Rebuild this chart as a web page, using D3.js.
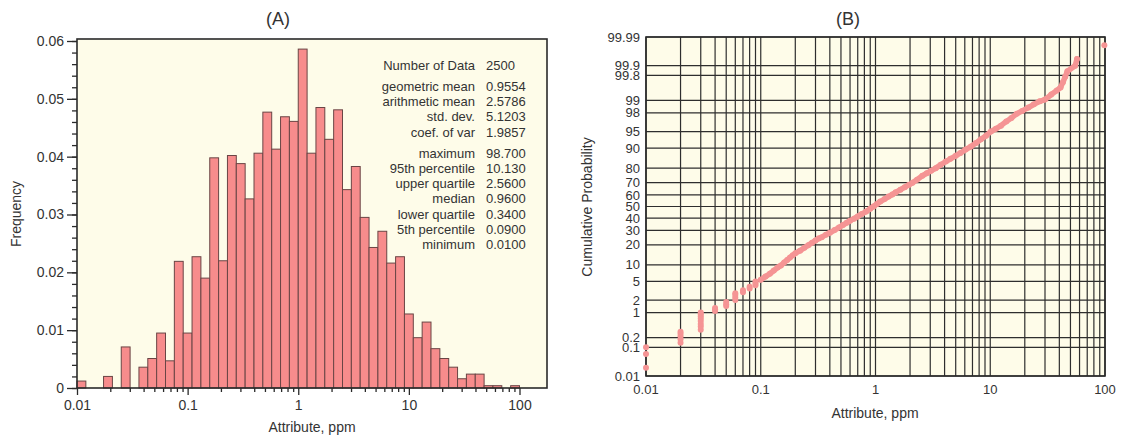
<!DOCTYPE html>
<html>
<head>
<meta charset="utf-8">
<script src="https://cdn.jsdelivr.net/npm/d3@7"></script>
<style>
body { margin: 0; background: #fff; }
svg text { font-family: "Liberation Sans", Arial, sans-serif; fill: #333; }
</style>
</head>
<body>
<div id="chart"></div>
<script>
// ---------------- data ----------------
// histogram: 50 log-spaced bins from 0.01 to 100 (0.08 log units wide)
var binStartLog = -2, binStepLog = 0.08;
var freq = [
	0.0012, 0, 0, 0.0020, 0, 0.0071, 0, 0.0036, 0.0051, 0.0095,
	0.0047, 0.0219, 0.0095, 0.0227, 0.0190, 0.0398, 0.0220, 0.0402, 0.0388, 0.0327,
	0.0406, 0.0477, 0.0413, 0.0469, 0.0461, 0.0586, 0.0406, 0.0485, 0.0430, 0.0481,
	0.0343, 0.0383, 0.0295, 0.0243, 0.0271, 0.0216, 0.0227, 0.0128, 0.0087, 0.0114,
	0.0068, 0.0051, 0.0036, 0.0016, 0.0024, 0.0024, 0.0004, 0.0004, 0, 0.0004
];

var statLabels = ['Number of Data', 'geometric mean', 'arithmetic mean', 'std. dev.', 'coef. of var',
	'maximum', '95th percentile', 'upper quartile', 'median', 'lower quartile', '5th percentile', 'minimum'];
var statValues = ['2500', '0.9554', '2.5786', '5.1203', '1.9857',
	'98.700', '10.130', '2.5600', '0.9600', '0.3400', '0.0900', '0.0100'];
var statGroup = [0, 1, 1, 1, 1, 2, 2, 2, 2, 2, 2, 2];

var xTicks = [0.01, 0.1, 1, 10, 100];
var freqTicks = [0, 0.01, 0.02, 0.03, 0.04, 0.05, 0.06];
var probTicks = [0.01, 0.1, 0.2, 1, 2, 5, 10, 20, 30, 40, 50, 60, 70, 80, 90, 95, 98, 99, 99.8, 99.9, 99.99];

// probability plot: low, discrete values (value, cumulative %)
var lowX = [0.01, 0.01, 0.01, 0.02, 0.02, 0.02, 0.02, 0.02,
	0.03, 0.03, 0.03, 0.03, 0.03, 0.03, 0.03, 0.03,
	0.04, 0.04, 0.04, 0.05, 0.05, 0.05, 0.06, 0.06, 0.06, 0.06,
	0.07, 0.07, 0.08, 0.08, 0.09, 0.09, 0.09];
var lowP = [0.02, 0.06, 0.10, 0.14, 0.18, 0.22, 0.26, 0.30,
	0.34, 0.42, 0.50, 0.60, 0.70, 0.80, 0.90, 1.00,
	1.10, 1.20, 1.30, 1.45, 1.60, 1.80, 2.0, 2.3, 2.6, 2.85,
	3.0, 3.3, 3.6, 3.9, 4.2, 4.6, 5.0];

// probability plot: continuous part
var probX = [0.1, 0.11, 0.12, 0.13, 0.14, 0.15, 0.16, 0.17, 0.18, 0.19, 0.2, 0.22, 0.24, 0.26, 0.28, 0.3,
	0.32, 0.34, 0.37, 0.4, 0.44, 0.48, 0.52, 0.56, 0.6, 0.65, 0.7, 0.76, 0.83, 0.9, 0.96,
	1.03, 1.1, 1.2, 1.3, 1.4, 1.5, 1.65, 1.8, 1.95, 2.1, 2.3, 2.56, 2.8, 3.05, 3.35, 3.7,
	4.1, 4.5, 5.0, 5.5, 6.1, 6.8, 7.5, 8.3, 9.2, 10.13, 11.2, 12.4, 13.8, 15.3, 17, 19,
	21.5, 24, 27, 30, 34, 38, 41, 43, 45, 47, 55, 57];
var probP = [5.4, 6.2, 7.0, 8.0, 9.0, 9.8, 11.0, 12.0, 13.2, 14.2, 15.2, 16.6, 18.3, 19.8, 21.3, 22.8,
	24.2, 25.0, 26.8, 28.2, 30.3, 32.2, 34.2, 36.0, 37.8, 39.5, 41.4, 43.5, 45.6, 48.0, 50.0,
	52.2, 54.3, 56.5, 58.6, 60.3, 62.2, 64.4, 66.4, 68.2, 69.8, 72.2, 75.0, 76.8, 78.3, 80.0, 82.0,
	83.8, 85.2, 86.7, 88.0, 89.4, 90.6, 91.8, 93.0, 94.0, 95.0, 95.6, 96.2, 96.9, 97.4, 97.9, 98.2,
	98.5, 98.75, 98.95, 99.05, 99.3, 99.45, 99.55, 99.68, 99.78, 99.85, 99.9, 99.94];
var maxX = 98.7, maxP = 99.98;

// ---------------- setup ----------------
var svg = d3.select('#chart').append('svg')
	.attr('width', 1121)
	.attr('height', 440);

var cream = '#fefce9',
	barFill = '#f78c8c',
	dotFill = '#f59494',
	ink = '#2a2a2a';

// =================================================================
// (A) histogram
// =================================================================
var A = { l: 77, r: 547, t: 39, b: 388 };

var xA = d3.scaleLog().domain([0.01, 100 * Math.pow(10, 0.52)]).range([A.l, A.l + 442.7 / 4 * (4 + 0.52)]);
xA.domain([0.01, 100]).range([A.l, 519.5]);
var yA = d3.scaleLinear().domain([0, 0.06]).range([A.b, A.t + 2]);

svg.append('rect')
	.attr('x', A.l).attr('y', A.t)
	.attr('width', A.r - A.l).attr('height', A.b - A.t)
	.attr('fill', cream);

svg.append('g').selectAll('rect')
	.data(freq)
	.enter()
	.append('rect')
	.attr('x', (d, i) => xA(Math.pow(10, binStartLog + i * binStepLog)))
	.attr('width', (d, i) => xA(Math.pow(10, binStartLog + (i + 1) * binStepLog)) - xA(Math.pow(10, binStartLog + i * binStepLog)))
	.attr('y', d => yA(d))
	.attr('height', d => yA(0) - yA(d))
	.attr('fill', barFill)
	.attr('stroke', d => d > 0 ? '#6a4545' : 'none')
	.attr('stroke-width', 1);

svg.append('rect')
	.attr('x', A.l).attr('y', A.t)
	.attr('width', A.r - A.l).attr('height', A.b - A.t)
	.attr('fill', 'none')
	.attr('stroke', ink)
	.attr('stroke-width', 1.6);

// x axis (log)
var xMinor = [];
xTicks.slice(0, -1).forEach(d => { for (var k = 2; k <= 9; k++) xMinor.push(d * k); });

var xAxisA = svg.append('g')
	.attr('transform', `translate(0,${A.b})`)
	.call(d3.axisBottom(xA).tickValues(xTicks).tickFormat(d => d3.format('~g')(d)).tickSize(7).tickPadding(5).tickSizeOuter(0));
xAxisA.select('.domain').remove();
svg.append('g')
	.attr('transform', `translate(0,${A.b})`)
	.call(d3.axisBottom(xA).tickValues(xMinor).tickFormat('').tickSize(4).tickSizeOuter(0))
	.select('.domain').remove();

// y axis
var yMinor = d3.range(0, 0.0601, 0.002);
svg.append('g')
	.attr('transform', `translate(${A.l},0)`)
	.call(d3.axisLeft(yA).tickValues(yMinor).tickFormat('').tickSize(5).tickSizeOuter(0))
	.select('.domain').remove();
var yAxisA = svg.append('g')
	.attr('transform', `translate(${A.l},0)`)
	.call(d3.axisLeft(yA).tickValues(freqTicks).tickFormat(d => d === 0 ? '0' : d.toFixed(2)).tickSize(10).tickPadding(3).tickSizeOuter(0));
yAxisA.select('.domain').remove();

svg.selectAll('.tick line').attr('stroke', ink).attr('stroke-width', 1.3);
svg.selectAll('.tick text').style('font-size', '14px').attr('fill', '#333');

// stats table
var statsG = svg.append('g').style('font-size', '13px');
statLabels.forEach((s, i) => {
	var y = 65.5 + i * 15.3 + statGroup[i] * 5.5;
	statsG.append('text')
		.attr('x', 475).attr('y', y).attr('dy', '0.35em')
		.attr('text-anchor', 'end')
		.text(s);
	statsG.append('text')
		.attr('x', 486).attr('y', y).attr('dy', '0.35em')
		.text(statValues[i]);
});

svg.append('text')
	.attr('x', 278).attr('y', 25)
	.attr('text-anchor', 'middle')
	.style('font-size', '18px')
	.text('(A)');

svg.append('text')
	.attr('x', 312).attr('y', 432)
	.attr('text-anchor', 'middle')
	.style('font-size', '14px')
	.text('Attribute, ppm');

svg.append('text')
	.attr('transform', 'translate(21,214)rotate(-90)')
	.attr('text-anchor', 'middle')
	.style('font-size', '14px')
	.text('Frequency');

// =================================================================
// (B) probability plot
// =================================================================
function normInv(p) {
	var a = [-3.969683028665376e+01, 2.209460984245205e+02, -2.759285104469687e+02, 1.383577518672690e+02, -3.066479806614716e+01, 2.506628277459239e+00];
	var b = [-5.447609879822406e+01, 1.615858368580409e+02, -1.556989798598866e+02, 6.680131188771972e+01, -1.328068155288572e+01];
	var c = [-7.784894002430293e-03, -3.223964580411365e-01, -2.400758277161838e+00, -2.549732539343734e+00, 4.374664141464968e+00, 2.938163982698783e+00];
	var d = [7.784695709041462e-03, 3.224671290700398e-01, 2.445134137142996e+00, 3.754408661907416e+00];
	var pl = 0.02425, q, r;
	if (p < pl) {
		q = Math.sqrt(-2 * Math.log(p));
		return (((((c[0] * q + c[1]) * q + c[2]) * q + c[3]) * q + c[4]) * q + c[5]) / ((((d[0] * q + d[1]) * q + d[2]) * q + d[3]) * q + 1);
	}
	if (p > 1 - pl) {
		q = Math.sqrt(-2 * Math.log(1 - p));
		return -(((((c[0] * q + c[1]) * q + c[2]) * q + c[3]) * q + c[4]) * q + c[5]) / ((((d[0] * q + d[1]) * q + d[2]) * q + d[3]) * q + 1);
	}
	q = p - 0.5; r = q * q;
	return (((((a[0] * r + a[1]) * r + a[2]) * r + a[3]) * r + a[4]) * r + a[5]) * q / (((((b[0] * r + b[1]) * r + b[2]) * r + b[3]) * r + b[4]) * r + 1);
}

var B = { l: 646, r: 1105, t: 37, b: 376 };
var xB = d3.scaleLog().domain([0.01, 100]).range([B.l, B.r]);
var zB = d3.scaleLinear().domain([normInv(0.0001), normInv(0.9999)]).range([B.b, B.t]);
var yB = p => zB(normInv(p / 100));

svg.append('rect')
	.attr('x', B.l).attr('y', B.t)
	.attr('width', B.r - B.l).attr('height', B.b - B.t)
	.attr('fill', cream);

var gridX = [];
xTicks.slice(0, -1).forEach(d => { for (var k = 1; k <= 9; k++) gridX.push(d * k); });
gridX.push(100);

var gridG = svg.append('g').attr('stroke', '#2e2e2e').attr('stroke-width', 1.2);
gridG.selectAll('.vline')
	.data(gridX)
	.enter()
	.append('line')
	.attr('x1', d => xB(d)).attr('x2', d => xB(d))
	.attr('y1', B.t).attr('y2', B.b);
gridG.selectAll('.hline')
	.data(probTicks)
	.enter()
	.append('line')
	.attr('x1', B.l).attr('x2', B.r)
	.attr('y1', d => yB(d)).attr('y2', d => yB(d));

svg.append('rect')
	.attr('x', B.l).attr('y', B.t)
	.attr('width', B.r - B.l).attr('height', B.b - B.t)
	.attr('fill', 'none')
	.attr('stroke', ink)
	.attr('stroke-width', 1.6);

// points
var ptsG = svg.append('g').attr('fill', dotFill);
ptsG.append('path')
	.datum(probX.map((x, i) => [x, probP[i]]))
	.attr('fill', 'none')
	.attr('stroke', dotFill)
	.attr('stroke-width', 5.5)
	.attr('stroke-linecap', 'round')
	.attr('stroke-linejoin', 'round')
	.attr('d', d3.line().x(d => xB(d[0])).y(d => yB(d[1])));
ptsG.selectAll('.pc')
	.data(probX.map((x, i) => [x, probP[i]]))
	.enter()
	.append('circle')
	.attr('cx', d => xB(d[0])).attr('cy', d => yB(d[1]))
	.attr('r', 3);
ptsG.selectAll('.pl')
	.data(lowX.map((x, i) => [x, lowP[i]]))
	.enter()
	.append('circle')
	.attr('cx', d => xB(d[0])).attr('cy', d => yB(d[1]))
	.attr('r', 3);
ptsG.append('circle')
	.attr('cx', xB(maxX)).attr('cy', yB(maxP))
	.attr('r', 3);

// labels
svg.append('g').selectAll('text')
	.data(probTicks)
	.enter()
	.append('text')
	.attr('x', B.l - 6)
	.attr('y', d => yB(d))
	.attr('dy', '0.35em')
	.attr('text-anchor', 'end')
	.style('font-size', '13px')
	.text(d => d);

svg.append('g').selectAll('text')
	.data(xTicks)
	.enter()
	.append('text')
	.attr('x', d => xB(d))
	.attr('y', 394)
	.attr('text-anchor', 'middle')
	.style('font-size', '13px')
	.text(d => d3.format('~g')(d));

svg.append('text')
	.attr('x', 848).attr('y', 25)
	.attr('text-anchor', 'middle')
	.style('font-size', '18px')
	.text('(B)');

svg.append('text')
	.attr('x', 875).attr('y', 418)
	.attr('text-anchor', 'middle')
	.style('font-size', '14px')
	.text('Attribute, ppm');

svg.append('text')
	.attr('transform', 'translate(592,207)rotate(-90)')
	.attr('text-anchor', 'middle')
	.style('font-size', '14px')
	.text('Cumulative Probability');
</script>
</body>
</html>
